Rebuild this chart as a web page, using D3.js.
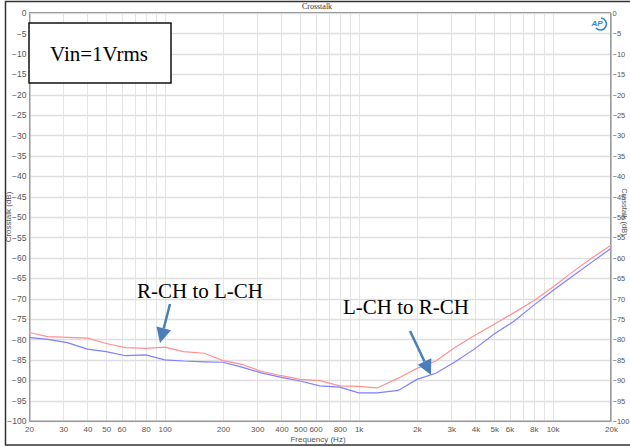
<!DOCTYPE html>
<html><head><meta charset="utf-8">
<script src="https://cdn.jsdelivr.net/npm/d3@7"></script>
<style>
html,body{margin:0;padding:0;background:#fff;}
svg{display:block;}
</style></head>
<body>
<script>
const freqs = [20,25,31.5,40,50,63,80,100,125,160,200,250,315,400,500,630,800,1000,1250,1600,2000,2500,3150,4000,5000,6300,8000,10000,12500,16000,20000];
const redSeries = [-78.3,-79.3,-79.5,-79.7,-81.0,-82.0,-82.2,-81.9,-83.0,-83.4,-85.2,-86.1,-87.8,-88.9,-89.8,-90.1,-91.4,-91.5,-91.9,-89.5,-87.1,-85.3,-81.9,-78.9,-76.3,-73.5,-70.5,-67.2,-63.7,-60.0,-56.9];
const blueSeries = [-79.5,-80.0,-80.8,-82.4,-83.0,-84.0,-83.8,-85.0,-85.3,-85.5,-85.6,-86.8,-88.2,-89.3,-90.2,-91.4,-91.7,-93.1,-93.1,-92.5,-89.8,-88.3,-85.5,-82.2,-78.7,-75.6,-71.6,-68.1,-64.7,-61.0,-57.7];
const xTickVals = [20,30,40,50,60,80,100,200,300,400,500,600,800,1000,2000,3000,4000,5000,6000,8000,10000,20000];
const xTickLabels = ["20","30","40","50","60","80","100","200","300","400","500","600","800","1k","2k","3k","4k","5k","6k","8k","10k","20k"];
const yTickVals = d3.range(0,-101,-5);
const titleText = "Crosstalk";
const yTitle = "Crosstalk (dB)";
const xTitle = "Frequency (Hz)";

const W=630,H=447;
const L=29,R=611,T=13,B=421;
const svg=d3.select("body").append("svg").attr("width",W).attr("height",H);
const x=d3.scaleLog().domain([20,20000]).range([L,R]);
const y=d3.scaleLinear().domain([0,-100]).range([T,B]);
const axFont="'Liberation Sans Narrow','Arial Narrow','Liberation Sans',sans-serif";

// outer frame
svg.append("rect").attr("x",5.5).attr("y",1.5).attr("width",630).attr("height",443.5)
  .attr("fill","#fff").attr("stroke","#333").attr("stroke-width",1.5);

// grid lines
const minorX=[];
for(let dec of [10,100,1000,10000]){for(let m=1;m<=9;m++){const v=m*dec;if(v>=20&&v<=20000)minorX.push(v);}}
svg.append("g").selectAll("line").data(minorX).join("line")
  .attr("x1",d=>Math.round(x(d))+0.5).attr("x2",d=>Math.round(x(d))+0.5)
  .attr("y1",T).attr("y2",B).attr("stroke","#e4e4e4").attr("stroke-width",1);
svg.append("g").selectAll("line").data(yTickVals).join("line")
  .attr("x1",L).attr("x2",R)
  .attr("y1",d=>Math.round(y(d))+0.5).attr("y2",d=>Math.round(y(d))+0.5)
  .attr("stroke","#dedede").attr("stroke-width",1.3);

// plot border
svg.append("rect").attr("x",L+0.5).attr("y",T-0.5).attr("width",R-L-1).attr("height",B-T+0.5)
  .attr("fill","none").attr("stroke","#9a9a9a").attr("stroke-width",1);

// axes
const leftAxis=d3.axisLeft(y).tickValues(yTickVals).tickSize(0).tickPadding(3);
const gl=svg.append("g").attr("transform",`translate(${L+0.5},0)`).call(leftAxis);
const rightAxis=d3.axisRight(y).tickValues(yTickVals).tickSize(0).tickPadding(2);
const gr=svg.append("g").attr("transform",`translate(${R-0.5},0)`).call(rightAxis);
const bottomAxis=d3.axisBottom(x).tickValues(xTickVals).tickFormat((d,i)=>xTickLabels[i]).tickSize(0).tickPadding(5);
const gb=svg.append("g").attr("transform",`translate(0,${B})`).call(bottomAxis);
[gl,gr,gb].forEach(g=>{
  g.select(".domain").attr("stroke","#9a9a9a");
  g.selectAll("text").attr("fill","#555").style("font-family",axFont).style("font-size","8.5px");
});
gb.selectAll("text").style("font-size","8px");
gr.selectAll("text").style("font-size","7.5px");

// title and axis titles
svg.append("text").attr("x",317).attr("y",9).attr("text-anchor","middle")
  .style("font-family","'Liberation Serif',serif").style("font-size","8px").attr("fill","#333").text(titleText);
svg.append("text").attr("x",318).attr("y",442).attr("text-anchor","middle")
  .style("font-family",axFont).style("font-size","8px").attr("fill","#555").text(xTitle);
svg.append("text").attr("transform","translate(11,217) rotate(-90)").attr("text-anchor","middle")
  .style("font-family",axFont).style("font-size","8px").attr("fill","#555").text(yTitle);
svg.append("text").attr("transform","translate(622,212) rotate(90)").attr("text-anchor","middle")
  .style("font-family",axFont).style("font-size","7.5px").attr("fill","#555").text(yTitle);

// AP logo
const logo=svg.append("g").attr("transform","translate(598,23)");
logo.append("path").attr("d","M3,-5 A6,6 0 1,1 -2,5").attr("fill","none").attr("stroke","#2f86d0").attr("stroke-width",1.6);
logo.append("text").attr("x",-1).attr("y",3).attr("text-anchor","middle")
  .style("font-family","'Liberation Sans',sans-serif").style("font-size","8px").style("font-weight","bold").style("font-style","italic")
  .attr("fill","#2f86d0").text("AP");

// data lines
const line=d3.line().x(d=>x(d[0])).y(d=>y(d[1]));
svg.append("path").datum(freqs.map((f,i)=>[f,redSeries[i]])).attr("d",line)
  .attr("fill","none").attr("stroke","#ff9090").attr("stroke-width",1.2);
svg.append("path").datum(freqs.map((f,i)=>[f,blueSeries[i]])).attr("d",line)
  .attr("fill","none").attr("stroke","#7f7fff").attr("stroke-width",1.2);

// Vin box
svg.append("rect").attr("x",29).attr("y",23).attr("width",142).attr("height",60)
  .attr("fill","#fff").attr("stroke","#111").attr("stroke-width",1.5);
svg.append("text").attr("x",50).attr("y",61)
  .style("font-family","'Liberation Serif','Times New Roman',serif").style("font-size","21px").attr("fill","#000").text("Vin=1Vrms");

// annotations
const serif="'Liberation Serif','Times New Roman',serif";
svg.append("text").attr("x",137).attr("y",298).style("font-family",serif).style("font-size","21px").attr("fill","#000").text("R-CH to L-CH");
svg.append("text").attr("x",343).attr("y",314).style("font-family",serif).style("font-size","21px").attr("fill","#000").text("L-CH to R-CH");

function arrow(x1,y1,x2,y2){
  const dx=x2-x1,dy=y2-y1,len=Math.hypot(dx,dy),ux=dx/len,uy=dy/len;
  const hl=15,hw=7.5;
  const bx=x2-ux*hl,by=y2-uy*hl;
  svg.append("line").attr("x1",x1).attr("y1",y1).attr("x2",bx).attr("y2",by)
    .attr("stroke","#4a7ebb").attr("stroke-width",2.5);
  svg.append("path").attr("d",`M${x2},${y2}L${bx-uy*hw},${by+ux*hw}L${bx+uy*hw},${by-ux*hw}Z`).attr("fill","#4a7ebb");
}
arrow(170,304,160,343);
arrow(410,331,431,375);
</script>
</body></html>
